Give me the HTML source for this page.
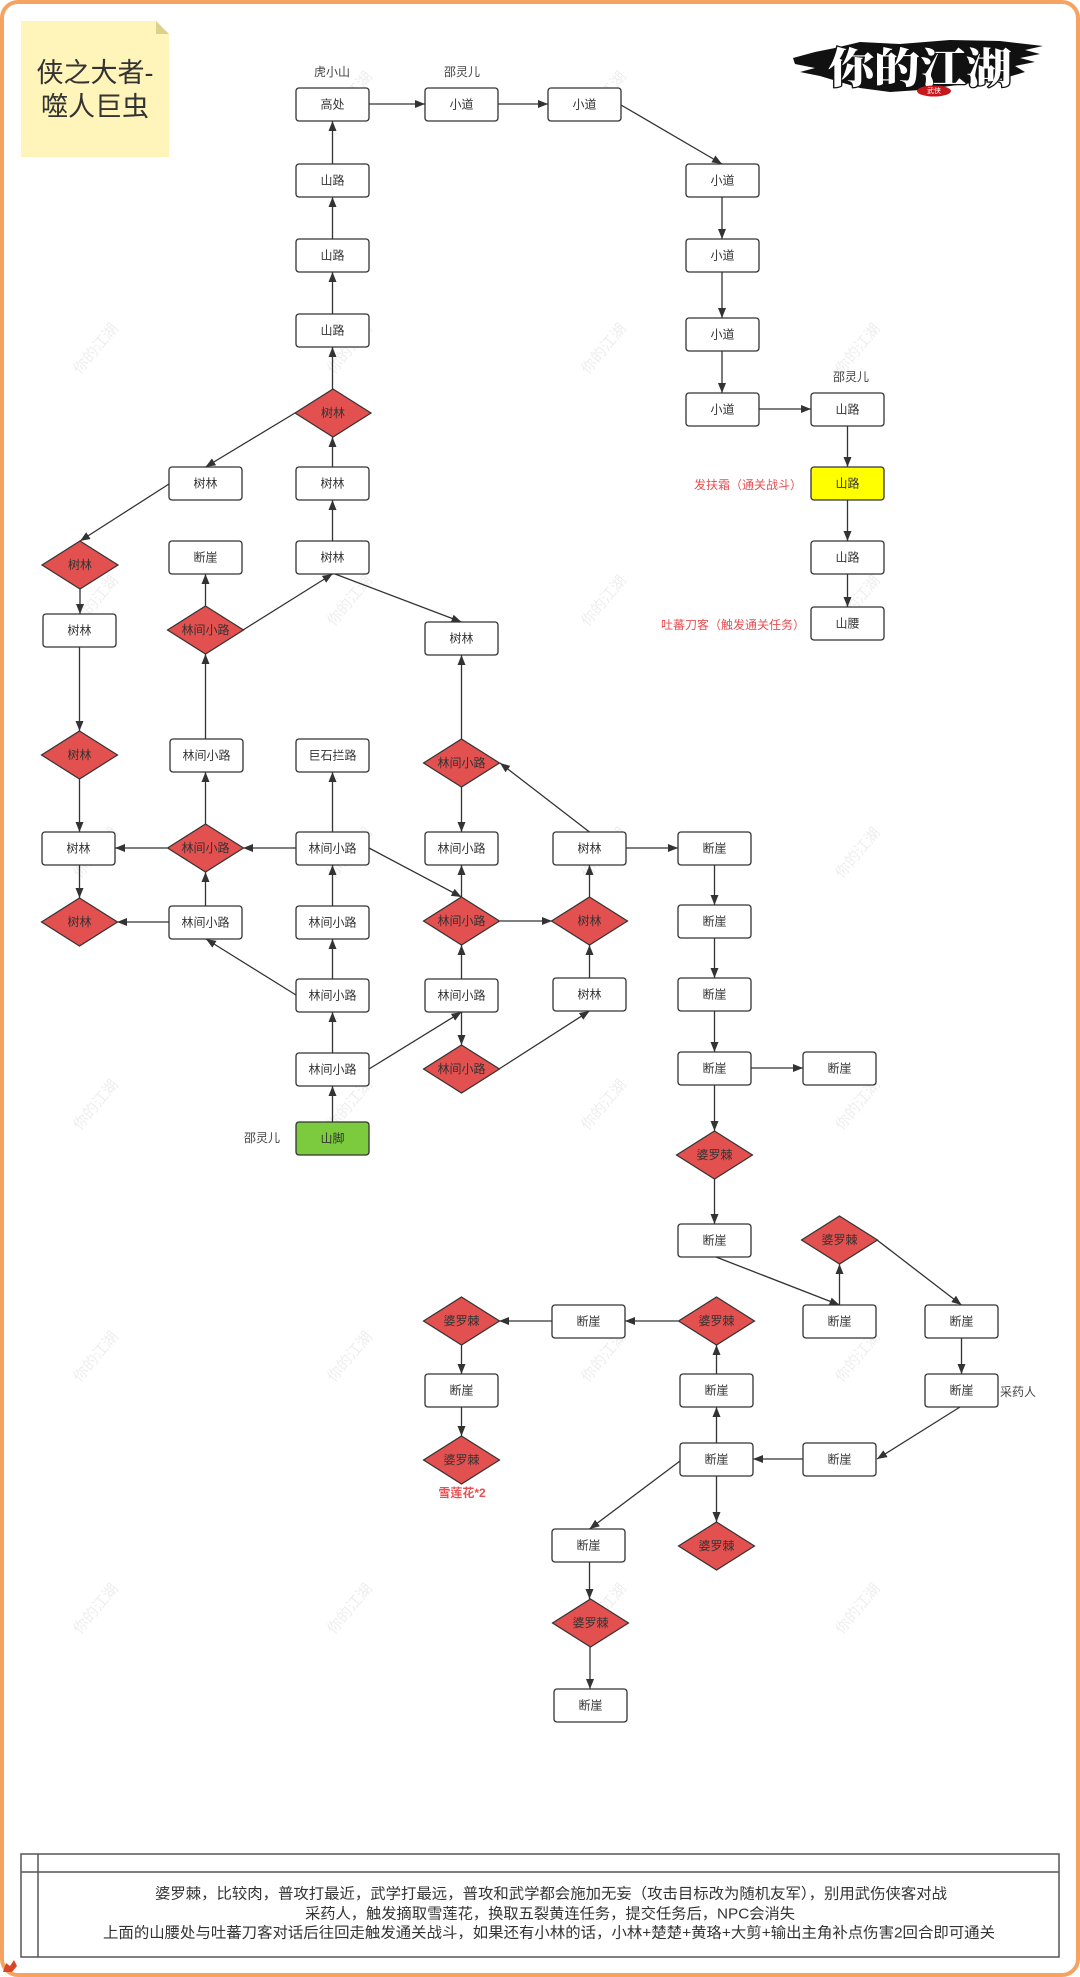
<!DOCTYPE html>
<html>
<head>
<meta charset="utf-8">
<style>
html,body{margin:0;padding:0;background:#fff;}
body{width:1080px;height:1977px;overflow:hidden;}
svg{display:block;}
.t{font-family:"Liberation Sans","Noto Sans CJK SC",sans-serif;font-size:12px;fill:#333;text-anchor:middle;dominant-baseline:central;}
.l{font-family:"Liberation Sans","Noto Sans CJK SC",sans-serif;font-size:12px;fill:#444;text-anchor:middle;dominant-baseline:central;}
.r{font-family:"Liberation Sans","Noto Sans CJK SC",sans-serif;font-size:12px;fill:#e84f52;dominant-baseline:central;}
.b rect{fill:#fff;stroke:#333;stroke-width:1.3;}
.d polygon{fill:#e2504f;stroke:#333;stroke-width:1.2;}
.e line{stroke:#333;stroke-width:1.3;marker-end:url(#a);}
.w{font-family:"Liberation Sans","Noto Sans CJK SC",sans-serif;font-size:15px;fill:#000;fill-opacity:0.07;text-anchor:middle;dominant-baseline:central;}
.tb{font-family:"Liberation Sans","Noto Sans CJK SC",sans-serif;font-size:15px;fill:#333;text-anchor:middle;dominant-baseline:central;}
</style>
</head>
<body>
<svg width="1080" height="1977" viewBox="0 0 1080 1977" xmlns="http://www.w3.org/2000/svg">
<defs>
<marker id="a" markerWidth="10" markerHeight="8" refX="10" refY="4" orient="auto" markerUnits="userSpaceOnUse"><path d="M0,0L10,4L0,8z" fill="#333"/></marker>
</defs>
<rect x="0" y="0" width="1080" height="1977" fill="#fff"/>
<rect x="2" y="2" width="1076" height="1973" rx="16" fill="#fff" stroke="#f6a362" stroke-width="4"/>

<!-- watermarks -->
<g class="w">
<text transform="translate(350,97) rotate(-50)">你的江湖</text>
<text transform="translate(604,97) rotate(-50)">你的江湖</text>
<text transform="translate(96,349) rotate(-50)">你的江湖</text>
<text transform="translate(350,349) rotate(-50)">你的江湖</text>
<text transform="translate(604,349) rotate(-50)">你的江湖</text>
<text transform="translate(858,349) rotate(-50)">你的江湖</text>
<text transform="translate(96,601) rotate(-50)">你的江湖</text>
<text transform="translate(350,601) rotate(-50)">你的江湖</text>
<text transform="translate(604,601) rotate(-50)">你的江湖</text>
<text transform="translate(858,601) rotate(-50)">你的江湖</text>
<text transform="translate(96,853) rotate(-50)">你的江湖</text>
<text transform="translate(350,853) rotate(-50)">你的江湖</text>
<text transform="translate(604,853) rotate(-50)">你的江湖</text>
<text transform="translate(858,853) rotate(-50)">你的江湖</text>
<text transform="translate(96,1105) rotate(-50)">你的江湖</text>
<text transform="translate(350,1105) rotate(-50)">你的江湖</text>
<text transform="translate(604,1105) rotate(-50)">你的江湖</text>
<text transform="translate(858,1105) rotate(-50)">你的江湖</text>
<text transform="translate(96,1357) rotate(-50)">你的江湖</text>
<text transform="translate(350,1357) rotate(-50)">你的江湖</text>
<text transform="translate(604,1357) rotate(-50)">你的江湖</text>
<text transform="translate(858,1357) rotate(-50)">你的江湖</text>
<text transform="translate(96,1609) rotate(-50)">你的江湖</text>
<text transform="translate(350,1609) rotate(-50)">你的江湖</text>
<text transform="translate(604,1609) rotate(-50)">你的江湖</text>
<text transform="translate(858,1609) rotate(-50)">你的江湖</text>
</g>

<!-- sticky note -->
<polygon points="21,21 156,21 169,34 169,157 21,157" fill="#fff4b9"/>
<polygon points="156,21 156,34 169,34" fill="#ddd08a"/>
<text x="95" y="73" font-family="Liberation Sans,Noto Sans CJK SC,sans-serif" font-size="27" fill="#333" text-anchor="middle" dominant-baseline="central">侠之大者-</text>
<text x="95" y="107" font-family="Liberation Sans,Noto Sans CJK SC,sans-serif" font-size="27" fill="#333" text-anchor="middle" dominant-baseline="central">噬人巨虫</text>

<!-- logo -->
<path d="M793,58 L815,52 L835,48 L860,42 L900,44 L950,40 L1000,41 L1043,46 L1025,50 L1040,54 L1020,58 L1035,62 L1015,66 L1025,72 L1005,78 L980,82 L950,86 L920,90 L890,92 L860,88 L840,82 L820,76 L800,72 L815,68 L795,64 Z" fill="#111"/>
<text x="920" y="66" font-family="Noto Serif CJK SC,Noto Sans CJK SC,serif" font-weight="900" font-size="42" fill="#fff" stroke="#111" stroke-width="2.5" paint-order="stroke" text-anchor="middle" dominant-baseline="central" textLength="184" lengthAdjust="spacingAndGlyphs">你的江湖</text>
<ellipse cx="934" cy="91" rx="17" ry="5.5" fill="#c8161d"/>
<text x="934" y="91" font-family="Noto Sans CJK SC,sans-serif" font-size="7" fill="#fff" text-anchor="middle" dominant-baseline="central">武侠</text>

<!-- edges -->
<g class="e">
<line x1="369" y1="104" x2="425" y2="104"/>
<line x1="498" y1="104" x2="548" y2="104"/>
<line x1="621" y1="105" x2="722" y2="164"/>
<line x1="722" y1="197" x2="722" y2="239"/>
<line x1="722" y1="272" x2="722" y2="318"/>
<line x1="722" y1="351" x2="722" y2="393"/>
<line x1="759" y1="409" x2="811" y2="409"/>
<line x1="847.5" y1="426" x2="847.5" y2="467"/>
<line x1="847.5" y1="500" x2="847.5" y2="541"/>
<line x1="847.5" y1="574" x2="847.5" y2="607"/>

<line x1="332.5" y1="314" x2="332.5" y2="272"/>
<line x1="332.5" y1="239" x2="332.5" y2="197"/>
<line x1="332.5" y1="164" x2="332.5" y2="121"/>
<line x1="332.5" y1="389" x2="332.5" y2="347"/>
<line x1="332.5" y1="467" x2="332.5" y2="437"/>
<line x1="332.5" y1="541" x2="332.5" y2="500"/>
<line x1="295" y1="413" x2="205.5" y2="467"/>
<line x1="169" y1="484" x2="80" y2="541"/>
<line x1="80" y1="589" x2="80" y2="614"/>
<line x1="79.5" y1="647" x2="79.5" y2="731"/>
<line x1="79.5" y1="779" x2="79.5" y2="832"/>
<line x1="79.5" y1="865" x2="79.5" y2="898"/>
<line x1="169" y1="922" x2="117" y2="922"/>
<line x1="167" y1="848" x2="115" y2="848"/>
<line x1="296" y1="848" x2="243" y2="848"/>
<line x1="205.5" y1="906" x2="205.5" y2="872"/>
<line x1="205.5" y1="824" x2="205.5" y2="772"/>
<line x1="205.5" y1="739" x2="205.5" y2="654"/>
<line x1="205.5" y1="606" x2="205.5" y2="574"/>
<line x1="243" y1="630" x2="332.5" y2="574"/>
<line x1="335" y1="574" x2="461.5" y2="622"/>
<line x1="461.5" y1="739" x2="461.5" y2="655"/>
<line x1="461.5" y1="787" x2="461.5" y2="832"/>
<line x1="332.5" y1="832" x2="332.5" y2="772"/>
<line x1="332.5" y1="906" x2="332.5" y2="865"/>
<line x1="332.5" y1="979" x2="332.5" y2="939"/>
<line x1="332.5" y1="1053" x2="332.5" y2="1012"/>
<line x1="332.5" y1="1122" x2="332.5" y2="1086"/>
<line x1="296" y1="995" x2="206" y2="939"/>
<line x1="369" y1="848" x2="461.5" y2="897"/>
<line x1="461.5" y1="897" x2="461.5" y2="865"/>
<line x1="500" y1="921" x2="552" y2="921"/>
<line x1="461.5" y1="979" x2="461.5" y2="945"/>
<line x1="461.5" y1="1012" x2="461.5" y2="1045"/>
<line x1="369" y1="1069" x2="461.5" y2="1012"/>
<line x1="499" y1="1069" x2="589.5" y2="1011"/>
<line x1="589.5" y1="978" x2="589.5" y2="945"/>
<line x1="589.5" y1="897" x2="589.5" y2="865"/>
<line x1="589.5" y1="832" x2="500" y2="763"/>
<line x1="626" y1="848" x2="678" y2="848"/>
<line x1="714.5" y1="865" x2="714.5" y2="905"/>
<line x1="714.5" y1="938" x2="714.5" y2="978"/>
<line x1="714.5" y1="1011" x2="714.5" y2="1052"/>
<line x1="751" y1="1068" x2="803" y2="1068"/>
<line x1="714.5" y1="1085" x2="714.5" y2="1131"/>
<line x1="714.5" y1="1179" x2="714.5" y2="1224"/>
<line x1="716" y1="1257" x2="839.5" y2="1305"/>
<line x1="839.5" y1="1305" x2="839.5" y2="1264"/>
<line x1="877" y1="1240" x2="961.5" y2="1305"/>
<line x1="961.5" y1="1338" x2="961.5" y2="1374"/>
<line x1="960" y1="1407" x2="877" y2="1459"/>
<line x1="803" y1="1459" x2="753" y2="1459"/>
<line x1="716.5" y1="1443" x2="716.5" y2="1407"/>
<line x1="716.5" y1="1374" x2="716.5" y2="1345"/>
<line x1="678" y1="1321" x2="625" y2="1321"/>
<line x1="552" y1="1321" x2="499" y2="1321"/>
<line x1="461.5" y1="1345" x2="461.5" y2="1374"/>
<line x1="461.5" y1="1407" x2="461.5" y2="1436"/>
<line x1="716.5" y1="1476" x2="716.5" y2="1522"/>
<line x1="680" y1="1461" x2="589.5" y2="1529"/>
<line x1="589.5" y1="1562" x2="589.5" y2="1599"/>
<line x1="590" y1="1647" x2="590" y2="1689"/>
</g>

<!-- boxes -->
<g class="b">
<rect x="296" y="88" width="73" height="33" rx="3"/>
<rect x="425" y="88" width="73" height="33" rx="3"/>
<rect x="548" y="88" width="73" height="33" rx="3"/>
<rect x="686" y="164" width="73" height="33" rx="3"/>
<rect x="686" y="239" width="73" height="33" rx="3"/>
<rect x="686" y="318" width="73" height="33" rx="3"/>
<rect x="686" y="393" width="73" height="33" rx="3"/>
<rect x="811" y="393" width="73" height="33" rx="3"/>
<rect x="811" y="467" width="73" height="33" rx="3" style="fill:#ffff00"/>
<rect x="811" y="541" width="73" height="33" rx="3"/>
<rect x="811" y="607" width="73" height="33" rx="3"/>
<rect x="296" y="164" width="73" height="33" rx="3"/>
<rect x="296" y="239" width="73" height="33" rx="3"/>
<rect x="296" y="314" width="73" height="33" rx="3"/>
<rect x="296" y="467" width="73" height="33" rx="3"/>
<rect x="296" y="541" width="73" height="33" rx="3"/>
<rect x="169" y="467" width="73" height="33" rx="3"/>
<rect x="169" y="541" width="73" height="33" rx="3"/>
<rect x="43" y="614" width="73" height="33" rx="3"/>
<rect x="425" y="622" width="73" height="33" rx="3"/>
<rect x="170" y="739" width="73" height="33" rx="3"/>
<rect x="296" y="739" width="73" height="33" rx="3"/>
<rect x="42" y="832" width="73" height="33" rx="3"/>
<rect x="296" y="832" width="73" height="33" rx="3"/>
<rect x="425" y="832" width="73" height="33" rx="3"/>
<rect x="553" y="832" width="73" height="33" rx="3"/>
<rect x="678" y="832" width="73" height="33" rx="3"/>
<rect x="169" y="906" width="73" height="33" rx="3"/>
<rect x="296" y="906" width="73" height="33" rx="3"/>
<rect x="678" y="905" width="73" height="33" rx="3"/>
<rect x="296" y="979" width="73" height="33" rx="3"/>
<rect x="425" y="979" width="73" height="33" rx="3"/>
<rect x="553" y="978" width="73" height="33" rx="3"/>
<rect x="678" y="978" width="73" height="33" rx="3"/>
<rect x="296" y="1053" width="73" height="33" rx="3"/>
<rect x="678" y="1052" width="73" height="33" rx="3"/>
<rect x="803" y="1052" width="73" height="33" rx="3"/>
<rect x="296" y="1122" width="73" height="33" rx="3" style="fill:#7ccb3e"/>
<rect x="678" y="1224" width="73" height="33" rx="3"/>
<rect x="803" y="1305" width="73" height="33" rx="3"/>
<rect x="925" y="1305" width="73" height="33" rx="3"/>
<rect x="552" y="1305" width="73" height="33" rx="3"/>
<rect x="425" y="1374" width="73" height="33" rx="3"/>
<rect x="680" y="1374" width="73" height="33" rx="3"/>
<rect x="925" y="1374" width="73" height="33" rx="3"/>
<rect x="680" y="1443" width="73" height="33" rx="3"/>
<rect x="803" y="1443" width="73" height="33" rx="3"/>
<rect x="552" y="1529" width="73" height="33" rx="3"/>
<rect x="554" y="1689" width="73" height="33" rx="3"/>
</g>

<!-- diamonds -->
<g class="d">
<polygon points="333,389 371,413 333,437 295,413"/>
<polygon points="80,541 118,565 80,589 42,565"/>
<polygon points="205.5,606 243.5,630 205.5,654 167.5,630"/>
<polygon points="79.5,731 117.5,755 79.5,779 41.5,755"/>
<polygon points="461.5,739 499.5,763 461.5,787 423.5,763"/>
<polygon points="205.5,824 243.5,848 205.5,872 167.5,848"/>
<polygon points="79.5,898 117.5,922 79.5,946 41.5,922"/>
<polygon points="461.5,897 499.5,921 461.5,945 423.5,921"/>
<polygon points="589.5,897 627.5,921 589.5,945 551.5,921"/>
<polygon points="461.5,1045 499.5,1069 461.5,1093 423.5,1069"/>
<polygon points="714.5,1131 752.5,1155 714.5,1179 676.5,1155"/>
<polygon points="839.5,1216 877.5,1240 839.5,1264 801.5,1240"/>
<polygon points="716.5,1297 754.5,1321 716.5,1345 678.5,1321"/>
<polygon points="461.5,1297 499.5,1321 461.5,1345 423.5,1321"/>
<polygon points="461.5,1436 499.5,1460 461.5,1484 423.5,1460"/>
<polygon points="716.5,1522 754.5,1546 716.5,1570 678.5,1546"/>
<polygon points="590.5,1599 628.5,1623 590.5,1647 552.5,1623"/>
</g>

<!-- node text -->
<g class="t">
<text x="332.5" y="104.5">高处</text>
<text x="461.5" y="104.5">小道</text>
<text x="584.5" y="104.5">小道</text>
<text x="722.5" y="180.5">小道</text>
<text x="722.5" y="255.5">小道</text>
<text x="722.5" y="334.5">小道</text>
<text x="722.5" y="409.5">小道</text>
<text x="847.5" y="409.5">山路</text>
<text x="847.5" y="483.5">山路</text>
<text x="847.5" y="557.5">山路</text>
<text x="847.5" y="623.5">山腰</text>
<text x="332.5" y="180.5">山路</text>
<text x="332.5" y="255.5">山路</text>
<text x="332.5" y="330.5">山路</text>
<text x="332.5" y="483.5">树林</text>
<text x="332.5" y="557.5">树林</text>
<text x="205.5" y="483.5">树林</text>
<text x="205.5" y="557.5">断崖</text>
<text x="79.5" y="630.5">树林</text>
<text x="461.5" y="638.5">树林</text>
<text x="206.5" y="755.5">林间小路</text>
<text x="332.5" y="755.5">巨石拦路</text>
<text x="78.5" y="848.5">树林</text>
<text x="332.5" y="848.5">林间小路</text>
<text x="461.5" y="848.5">林间小路</text>
<text x="589.5" y="848.5">树林</text>
<text x="714.5" y="848.5">断崖</text>
<text x="205.5" y="922.5">林间小路</text>
<text x="332.5" y="922.5">林间小路</text>
<text x="714.5" y="921.5">断崖</text>
<text x="332.5" y="995.5">林间小路</text>
<text x="461.5" y="995.5">林间小路</text>
<text x="589.5" y="994.5">树林</text>
<text x="714.5" y="994.5">断崖</text>
<text x="332.5" y="1069.5">林间小路</text>
<text x="714.5" y="1068.5">断崖</text>
<text x="839.5" y="1068.5">断崖</text>
<text x="332.5" y="1138.5">山脚</text>
<text x="714.5" y="1240.5">断崖</text>
<text x="839.5" y="1321.5">断崖</text>
<text x="961.5" y="1321.5">断崖</text>
<text x="588.5" y="1321.5">断崖</text>
<text x="461.5" y="1390.5">断崖</text>
<text x="716.5" y="1390.5">断崖</text>
<text x="961.5" y="1390.5">断崖</text>
<text x="716.5" y="1459.5">断崖</text>
<text x="839.5" y="1459.5">断崖</text>
<text x="588.5" y="1545.5">断崖</text>
<text x="590.5" y="1705.5">断崖</text>

<text x="333" y="413">树林</text>
<text x="80" y="565">树林</text>
<text x="205.5" y="630">林间小路</text>
<text x="79.5" y="755">树林</text>
<text x="461.5" y="763">林间小路</text>
<text x="205.5" y="848">林间小路</text>
<text x="79.5" y="922">树林</text>
<text x="461.5" y="921">林间小路</text>
<text x="589.5" y="921">树林</text>
<text x="461.5" y="1069">林间小路</text>
<text x="714.5" y="1155">婆罗棘</text>
<text x="839.5" y="1240">婆罗棘</text>
<text x="716.5" y="1321">婆罗棘</text>
<text x="461.5" y="1321">婆罗棘</text>
<text x="461.5" y="1460">婆罗棘</text>
<text x="716.5" y="1546">婆罗棘</text>
<text x="590.5" y="1623">婆罗棘</text>
</g>

<!-- labels -->
<g class="l">
<text x="332" y="72">虎小山</text>
<text x="462" y="72">邵灵儿</text>
<text x="851" y="377">邵灵儿</text>
<text x="262" y="1138">邵灵儿</text>
<text x="1018" y="1392">采药人</text>
</g>
<text class="r" x="802" y="485" text-anchor="end">发扶霜（通关战斗）</text>
<text class="r" x="805" y="625" text-anchor="end">吐蕃刀客（触发通关任务）</text>
<text class="r" x="462" y="1493" text-anchor="middle" font-weight="bold">雪莲花*2</text>

<!-- table -->
<rect x="21" y="1854" width="1038" height="103" fill="#fff" stroke="#555" stroke-width="1.5"/>
<line x1="21" y1="1872" x2="1059" y2="1872" stroke="#555" stroke-width="1.5"/>
<line x1="38" y1="1854" x2="38" y2="1957" stroke="#555" stroke-width="1.5"/>
<text class="tb" x="551" y="1894" textLength="792" lengthAdjust="spacingAndGlyphs">婆罗棘，比较肉，普攻打最近，武学打最远，普攻和武学都会施加无妄（攻击目标改为随机友军），别用武伤侠客对战</text>
<text class="tb" x="550" y="1914" textLength="490" lengthAdjust="spacingAndGlyphs">采药人，触发摘取雪莲花，换取五裂黄连任务，提交任务后，NPC会消失</text>
<text class="tb" x="549" y="1933" textLength="892" lengthAdjust="spacingAndGlyphs">上面的山腰处与吐蕃刀客对话后往回走触发通关战斗，如果还有小林的话，小林+楚楚+黄珞+大剪+输出主角补点伤害2回合即可通关</text>

<!-- small corner icon -->
<path d="M3,1972 L6,1963 L10,1966 L14,1960 L17,1966 L12,1972 Z" fill="#d9472b"/>
</svg>
</body>
</html>
